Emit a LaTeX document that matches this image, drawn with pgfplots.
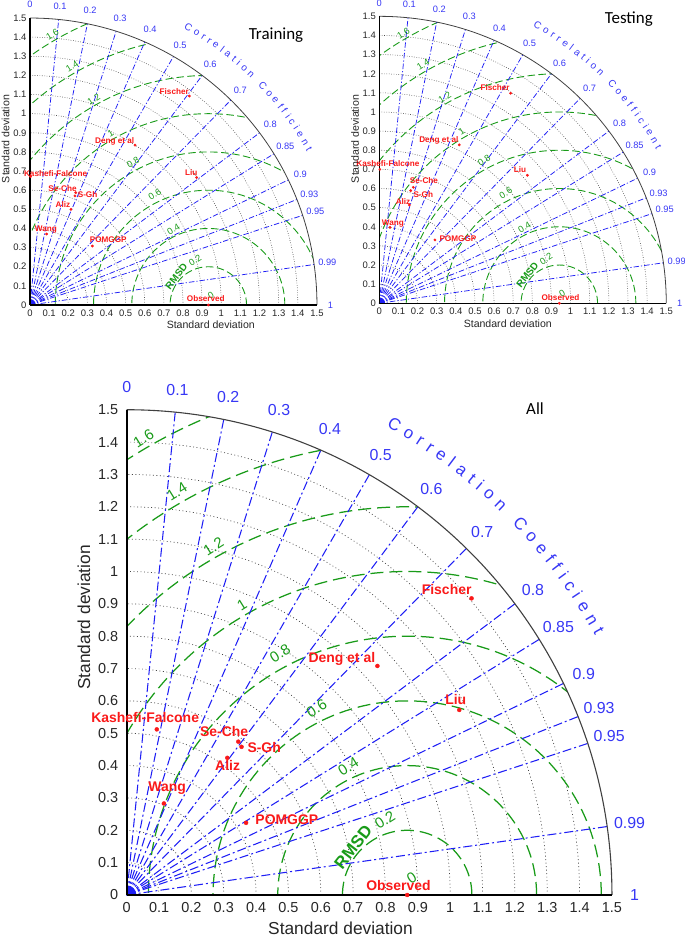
\documentclass[border=0pt]{standalone}
\usepackage{pgfplots}
\pgfplotsset{compat=1.18}
\usepackage{fontspec}
\setmainfont{Liberation Sans}
\newfontfamily\calibri{Carlito}
\usetikzlibrary{decorations.text}

\definecolor{corrblue}{RGB}{30,30,245}
\definecolor{corrlab}{RGB}{55,55,245}
\definecolor{rmsgreen}{RGB}{25,155,25}
\definecolor{stdgray}{RGB}{70,70,70}
\definecolor{ticktext}{RGB}{38,38,38}
\definecolor{ptred}{RGB}{250,25,25}

\newcommand{\fs}[1]{\fontsize{#1}{#1}\selectfont}

% #1 origin x (bp), #2 origin y (bp), #3 unit (bp), #4 observed std
\newcommand{\taylorgrid}[4]{%
\begin{scope}[shift={(#1bp,#2bp)}, x=#3bp, y=#3bp]
  \foreach \rr in {0.1,0.2,0.3,0.4,0.5,0.6,0.7,0.8,0.9,1.0,1.1,1.2,1.3,1.4}
    {\draw[stdgrid] (\rr,0) arc[start angle=0,end angle=90,radius=\rr];}
  \begin{scope}
    \clip (0,0) -- (1.5,0) arc[start angle=0,end angle=90,radius=1.5] -- cycle;
    \foreach \rr in {0.2,0.4,0.6,0.8,1.0,1.2,1.4,1.6}
      {\draw[rmsline] (#4,0) circle[radius=\rr];}
  \end{scope}
  \foreach \cc in {0.1,0.2,0.3,0.4,0.5,0.6,0.7,0.8,0.85,0.9,0.93,0.95,0.99}
    {\draw[corrline] (0,0) -- ({1.5*\cc},{1.5*sqrt(1-\cc*\cc)});}
  \fill[corrblue] (0,0) -- (0.03,0) arc[start angle=0,end angle=90,radius=0.03] -- cycle;
  \draw[outerarc] (1.5,0) arc[start angle=0,end angle=90,radius=1.5];
  \foreach \cc in {0,0.1,0.2,0.3,0.4,0.5,0.6,0.7,0.8,0.85,0.9,0.93,0.95,0.99,1}
    {\node[corrlabel] at ({1.57*\cc},{1.57*sqrt(1-\cc*\cc)}) {\cc};}
  \path[decorate, decoration={text along path, text={|\cctextfont|Correlation Coefficient}, text align=fit to path, text color=corrlab}]
    (61:1.655) arc[start angle=61,end angle=29,radius=1.655];
  \foreach \dx/\dy/\lab in {-0.069/0.232/0.2, -0.182/0.397/0.4, -0.28/0.577/0.6, -0.393/0.747/0.8, -0.511/0.896/1, -0.599/1.077/1.2, -0.712/1.247/1.4, -0.815/1.412/1.6, 0.014/0.052/0}
    {\node[rmslabel, rotate=32] at ({#4+\dx},\dy) {\lab};}
  \node[rmsdlabel, rotate=52] at ({#4-0.167},0.149) {RMSD};
\end{scope}}

\pgfplotsset{
  taylor/.style={
    xmin=0,xmax=1.5,ymin=0,ymax=1.5, anchor=south west, clip=false,
    axis lines=left, axis line style={-},
    xtick={0,0.1,0.2,0.3,0.4,0.5,0.6,0.7,0.8,0.9,1,1.1,1.2,1.3,1.4,1.5},
    ytick={0,0.1,0.2,0.3,0.4,0.5,0.6,0.7,0.8,0.9,1,1.1,1.2,1.3,1.4,1.5},
    major tick length=0pt,
    /pgf/number format/assume math mode=true,
    tick label style={text=ticktext},
  }
}

\tikzset{
  smallstyle/.style={
    stdgrid/.style={stdgray, line width=0.55bp, dash pattern=on 0.7bp off 1.7bp},
    rmsline/.style={rmsgreen, line width=0.9bp, dash pattern=on 7.5bp off 3.5bp},
    corrline/.style={corrblue, line width=0.75bp, dash pattern=on 5.5bp off 2bp on 1.2bp off 2bp},
    outerarc/.style={black!75, line width=0.8bp},
    corrlabel/.style={text=corrlab, font=\fs{9.3}, inner sep=0pt},
    rmslabel/.style={text=rmsgreen, font=\fs{9.3}, inner sep=0pt},
    rmsdlabel/.style={text=rmsgreen, font=\bfseries\fs{10}, inner sep=0pt},
    redlab/.style={text=ptred, font=\bfseries\fs{8.2}, inner sep=0pt},
  },
  bigstyle/.style={
    stdgrid/.style={stdgray, line width=0.7bp, dash pattern=on 0.9bp off 2.6bp},
    rmsline/.style={rmsgreen, line width=1.25bp, dash pattern=on 13bp off 6bp},
    corrline/.style={corrblue, line width=1.05bp, dash pattern=on 9bp off 3bp on 2bp off 3bp},
    outerarc/.style={black!75, line width=1.1bp},
    corrlabel/.style={text=corrlab, font=\fs{16}, inner sep=0pt},
    rmslabel/.style={text=rmsgreen, font=\fs{15}, inner sep=0pt},
    rmsdlabel/.style={text=rmsgreen, font=\bfseries\fs{17}, inner sep=0pt},
    redlab/.style={text=ptred, font=\bfseries\fs{14}, inner sep=0pt},
  },
}

\begin{document}
\begin{tikzpicture}[x=1bp,y=1bp]
\useasboundingbox (0,0) rectangle (685,937);

% ================= Training =================
\begin{scope}[smallstyle]
\def\cctextfont{\fontsize{10}{10}\selectfont}
\taylorgrid{30}{632}{191.3}{0.932}
\begin{axis}[taylor, at={(30bp,632bp)}, x=191.3bp, y=191.3bp,
  x axis line style={line width=1.3bp}, y axis line style={line width=1.6bp},
  tick label style={font=\fs{9.5}},
  xticklabel style={yshift=-1bp}]
\addplot[only marks, mark=*, mark size=1.2bp, color=ptred] coordinates {
 (0.833,1.092) (0.549,0.836) (0.871,0.666) (0.003,0.671) (0.239,0.587)
 (0.235,0.570) (0.214,0.500) (0.087,0.371) (0.326,0.308) (0.932,0)};
\node[redlab] at (axis cs:0.754,1.115) {Fischer};
\node[redlab] at (axis cs:0.443,0.857) {Deng et al};
\node[redlab] at (axis cs:0.843,0.692) {Liu};
\node[redlab] at (axis cs:0.134,0.688) {Kashefi-Falcone};
\node[redlab] at (axis cs:0.170,0.610) {Se-Che};
\node[redlab] at (axis cs:0.301,0.579) {S-Gh};
\node[redlab] at (axis cs:0.172,0.523) {Aliz};
\node[redlab] at (axis cs:0.083,0.396) {Wang};
\node[redlab] at (axis cs:0.409,0.343) {POMGGP};
\node[redlab] at (axis cs:0.919,0.031) {Observed};
\end{axis}
\node[font=\fs{10.6}, text=ticktext] at (210.8,612) {Standard deviation};
\node[font=\fs{10.6}, text=ticktext, rotate=90] at (5.5,798) {Standard deviation};
\node[font=\calibri\fs{17}] at (276,902) {Training};
\end{scope}

% ================= Testing =================
\begin{scope}[smallstyle]
\def\cctextfont{\fontsize{10}{10}\selectfont}
\taylorgrid{379.3}{633.7}{191.3}{0.941}
\begin{axis}[taylor, at={(379.3bp,633.7bp)}, x=191.3bp, y=191.3bp,
  x axis line style={line width=1.3bp}, y axis line style={line width=1.6bp},
  tick label style={font=\fs{9.5}},
  xticklabel style={yshift=-1bp}]
\addplot[only marks, mark=*, mark size=1.2bp, color=ptred] coordinates {
 (0.686,1.098) (0.418,0.828) (0.774,0.669) (0.003,0.700) (0.178,0.606)
 (0.164,0.589) (0.157,0.514) (0.056,0.397) (0.291,0.331) (0.941,0)};
\node[redlab] at (axis cs:0.605,1.127) {Fischer};
\node[redlab] at (axis cs:0.311,0.854) {Deng et al};
\node[redlab] at (axis cs:0.736,0.697) {Liu};
\node[redlab] at (axis cs:0.045,0.732) {Kashefi-Falcone};
\node[redlab] at (axis cs:0.233,0.639) {Se-Che};
\node[redlab] at (axis cs:0.230,0.570) {S-Gh};
\node[redlab] at (axis cs:0.124,0.531) {Aliz};
\node[redlab] at (axis cs:0.071,0.418) {Wang};
\node[redlab] at (axis cs:0.411,0.340) {POMGGP};
\node[redlab] at (axis cs:0.947,0.031) {Observed};
\end{axis}
\node[font=\fs{10.6}, text=ticktext] at (507.8,613.7) {Standard deviation};
\node[font=\fs{10.6}, text=ticktext, rotate=90] at (355,798) {Standard deviation};
\node[font=\calibri\fs{17}] at (628.8,917.7) {Testing};
\end{scope}

% ================= All =================
\begin{scope}[bigstyle]
\def\cctextfont{\fontsize{17}{17}\selectfont}
\taylorgrid{126.7}{42}{323.5}{0.867}
\begin{axis}[taylor, at={(126.7bp,42bp)}, x=323.5bp, y=323.5bp,
  x axis line style={line width=1.8bp}, y axis line style={line width=2.2bp},
  tick label style={font=\fs{14.5}},
  xticklabel style={yshift=-4bp}, yticklabel style={xshift=-5bp}]
\addplot[only marks, mark=*, mark size=2bp, color=ptred] coordinates {
 (1.066,0.917) (0.775,0.708) (1.028,0.572) (0.093,0.512) (0.345,0.474)
 (0.355,0.458) (0.311,0.424) (0.115,0.283) (0.369,0.223) (0.867,0)};
\node[redlab] at (axis cs:0.989,0.943) {Fischer};
\node[redlab] at (axis cs:0.665,0.730) {Deng et al};
\node[redlab] at (axis cs:1.017,0.605) {Liu};
\node[redlab] at (axis cs:0.057,0.550) {Kashefi-Falcone};
\node[redlab] at (axis cs:0.301,0.505) {Se-Che};
\node[redlab] at (axis cs:0.425,0.457) {S-Gh};
\node[redlab] at (axis cs:0.312,0.399) {Aliz};
\node[redlab] at (axis cs:0.125,0.330) {Wang};
\node[redlab] at (axis cs:0.495,0.232) {POMGGP};
\node[redlab] at (axis cs:0.840,0.028) {Observed};
\end{axis}
\node[font=\fs{17.4}, text=ticktext] at (340.5,9) {Standard deviation};
\node[font=\fs{17.4}, text=ticktext, rotate=90] at (84,319.5) {Standard deviation};
\node[font=\calibri\fs{17}] at (535,528.7) {All};
\end{scope}
\end{tikzpicture}
\end{document}
